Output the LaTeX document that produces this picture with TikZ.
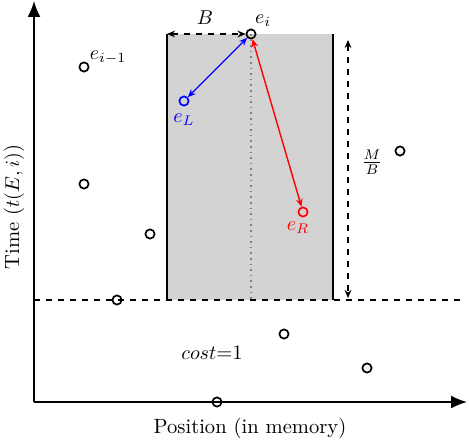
\documentclass[tikz,border=0pt]{standalone}
\usetikzlibrary{arrows.meta}
\definecolor{blockgray}{RGB}{211,211,211}
\begin{document}
\begin{tikzpicture}[x=0.5pt,y=-0.5pt,
  pt/.style={circle,draw,line width=0.85pt,inner sep=0pt,minimum size=4.6pt},
  axis/.style={line width=0.85pt,-{Latex[length=8pt,width=6.5pt]}},
  span/.style={dashed,line width=0.7pt,{Stealth[length=4pt,width=3.4pt]}-{Stealth[length=4pt,width=3.4pt]}},
  link/.style={line width=0.7pt,{Stealth[length=4pt,width=3.4pt]}-{Stealth[length=4pt,width=3.4pt]}},
  lbl/.style={inner sep=0pt,font=\fontsize{10.3}{12}\selectfont}]
\useasboundingbox (0,0) rectangle (469,442);
% memory block of size B
\fill[blockgray] (167,34) rectangle (333,300);
\draw[line width=0.75pt] (167,34) -- (167,300);
\draw[line width=0.75pt] (333,34) -- (333,300);
\draw[gray,dotted,line width=0.8pt] (251,34) -- (251,300);
% cost threshold
\draw[dashed,line width=0.7pt] (34,300) -- (462,300);
% axes
\coordinate (o) at (34,402);
\coordinate (xend) at (467,402);
\coordinate (yend) at (34,1);
\draw[axis] (o) -- (xend);
\draw[axis] (o) -- (yend);
\node[lbl] (xl) at (250,428) {Position (in memory)};
\node[lbl,rotate=90] (yl) at (14,207) {Time ($t(E,i)$)};
% points
\node[pt] (ei) at (251,34) {};
\node[pt,draw=blue] (eL) at (184,101) {};
\node[pt,draw=red] (eR) at (303,212) {};
\node[pt] (p1) at (84,67) {};
\node[pt] (p2) at (84,184) {};
\node[pt] (p3) at (150,234) {};
\node[pt] (p4) at (117,300) {};
\node[pt] (p5) at (284,334) {};
\node[pt] (p6) at (367,368) {};
\node[pt] (p7) at (217,402) {};
\node[pt] (p8) at (400,151) {};
% labels
\node[lbl] (lei) at (263,21) {$e_i$};
\node[lbl] (lp1) at (108,58) {$e_{i-1}$};
\node[lbl,text=blue] (leL) at (184,120) {$e_L$};
\node[lbl,text=red] (leR) at (298,228) {$e_R$};
\node[lbl] (lB) at (205,18) {$B$};
\node[lbl] (lMB) at (372,162) {$\frac{M}{B}$};
\node[lbl] (lc) at (212,353) {$cost$=1};
% measurements
\coordinate (bl) at (167,34);
\draw[span] (bl) -- (ei);
\coordinate (mt) at (348,40);
\coordinate (mb) at (348,298);
\draw[span] (mt) -- (mb);
% distances to neighbours
\draw[link,blue] (ei) -- (eL);
\draw[link,red] (ei) -- (eR);
\end{tikzpicture}
\end{document}
